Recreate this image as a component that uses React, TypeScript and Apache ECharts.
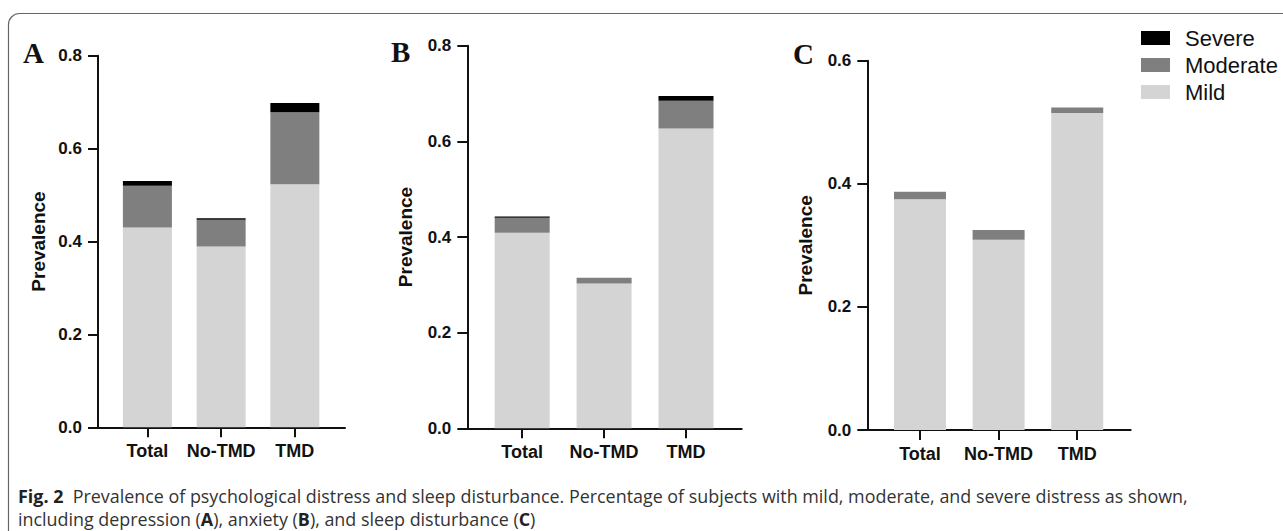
import React, { useEffect, useRef } from "react";
import * as echarts from "echarts";

const categories = ["Total", "No-TMD", "TMD"];
const levels = ["Severe", "Moderate", "Mild"];
const levelColors: Record<string, string> = { Severe: "#000000", Moderate: "#7f7f7f", Mild: "#d4d4d4" };

// Panel A: depression
const mildA = [0.43, 0.389, 0.523];
const moderateA = [0.09, 0.058, 0.155];
const severeA = [0.01, 0.003, 0.02];
// Panel B: anxiety
const mildB = [0.409, 0.303, 0.627];
const moderateB = [0.031, 0.012, 0.058];
const severeB = [0.003, 0, 0.01];
// Panel C: sleep disturbance
const mildC = [0.375, 0.309, 0.515];
const moderateC = [0.012, 0.016, 0.009];
const severeC = [0, 0, 0];

const yTicksAB = [0, 0.2, 0.4, 0.6, 0.8];
const yTicksC = [0, 0.2, 0.4, 0.6];

const panelLetters = ["A", "B", "C"];
const captionLine1 = "Prevalence of psychological distress and sleep disturbance. Percentage of subjects with mild, moderate, and severe distress as shown,";
const captionLine2 = "including depression ({b|A}), anxiety ({b|B}), and sleep disturbance ({b|C})";

const FONT = "Arial, 'Liberation Sans', Helvetica, sans-serif";
const X_MIN = -0.67;
const X_MAX = 2.68;

export default function App() {
  const ref = useRef<HTMLDivElement>(null);
  useEffect(() => {
    if (!ref.current) return;
    const chart = echarts.init(ref.current, undefined, { renderer: "svg" });

    const panels = [
      { grid: { left: 98, top: 55.7, width: 247, height: 371.6 }, ticks: yTicksAB, barWidth: 49, data: [mildA, moderateA, severeA], nameGap: 50 },
      { grid: { left: 467.3, top: 45.7, width: 274.4, height: 382.6 }, ticks: yTicksAB, barWidth: 55, data: [mildB, moderateB, severeB], nameGap: 52 },
      { grid: { left: 867.3, top: 60.7, width: 263.4, height: 369.3 }, ticks: yTicksC, barWidth: 52, data: [mildC, moderateC, severeC], nameGap: 52 },
    ];

    const axisLineStyle = { color: "#111", width: 2 };
    const grid: any[] = [];
    const xAxis: any[] = [];
    const yAxis: any[] = [];
    const series: any[] = [];

    panels.forEach((p, i) => {
      const step = p.grid.width / (X_MAX - X_MIN);
      // outer grid: visible axes
      grid.push({ ...p.grid });
      // inner grid: category bands for the stacked bars
      grid.push({
        left: p.grid.left + (0 - X_MIN - 0.5) * step,
        top: p.grid.top,
        width: 3 * step,
        height: p.grid.height,
      });
      const outer = 2 * i;
      const inner = 2 * i + 1;
      xAxis.push({
        type: "value",
        gridIndex: outer,
        min: X_MIN,
        max: X_MAX,
        splitLine: { show: false },
        axisLine: { show: true, onZero: false, lineStyle: axisLineStyle },
        axisTick: { show: true, customValues: [0, 1, 2], length: 10, lineStyle: axisLineStyle },
        axisLabel: {
          customValues: [0, 1, 2],
          formatter: (v: number) => categories[Math.round(v)],
          fontFamily: FONT,
          fontWeight: "bold",
          fontSize: 18,
          color: "#111",
          margin: 15,
        },
      });
      xAxis.push({
        type: "category",
        gridIndex: inner,
        data: categories,
        show: false,
      });
      const yMax = p.ticks[p.ticks.length - 1];
      yAxis.push({
        type: "value",
        gridIndex: outer,
        min: 0,
        max: yMax,
        interval: 0.2,
        name: "Prevalence",
        nameLocation: "middle",
        nameGap: p.nameGap,
        nameTextStyle: { fontFamily: FONT, fontWeight: "bold", fontSize: 19, color: "#111" },
        splitLine: { show: false },
        axisLine: { show: true, onZero: false, lineStyle: axisLineStyle },
        axisTick: { show: true, length: 10, lineStyle: axisLineStyle },
        axisLabel: {
          formatter: (v: number) => v.toFixed(1),
          fontFamily: FONT,
          fontWeight: "bold",
          fontSize: 17,
          color: "#111",
          margin: 16,
        },
      });
      yAxis.push({ type: "value", gridIndex: inner, min: 0, max: yMax, show: false, splitLine: { show: false } });

      const [mild, moderate, severe] = p.data;
      const parts: [string, number[]][] = [["Mild", mild], ["Moderate", moderate], ["Severe", severe]];
      parts.forEach(([name, vals]) => {
        series.push({
          type: "bar",
          name,
          xAxisIndex: inner,
          yAxisIndex: inner,
          stack: "s" + i,
          barWidth: p.barWidth,
          itemStyle: { color: levelColors[name] },
          data: vals,
        });
      });
    });

    const letterPos = [
      { x: 23, y: 53 },
      { x: 391, y: 52 },
      { x: 793, y: 54 },
    ];

    const captionFont = "17.9px 'Open Sans', sans-serif";
    const rich = { b: { fontFamily: "'Open Sans', sans-serif", fontWeight: "bold", fontSize: 17.9, fill: "#222" } };

    chart.setOption({
      animation: false,
      backgroundColor: "#ffffff",
      grid,
      xAxis,
      yAxis,
      series,
      legend: {
        data: levels,
        orient: "vertical",
        left: 1141,
        top: 27,
        padding: 0,
        itemWidth: 29,
        itemHeight: 14,
        itemGap: 5,
        icon: "rect",
        textStyle: { fontFamily: FONT, fontSize: 22, color: "#111", padding: [0, 0, 0, 10] },
      },
      graphic: [
        {
          type: "rect",
          silent: true,
          shape: { x: 8.5, y: 13.5, width: 1400, height: 700, r: 11 },
          style: { fill: "none", stroke: "#666", lineWidth: 1.2 },
        },
        ...panelLetters.map((t, i) => ({
          type: "text",
          x: letterPos[i].x,
          y: letterPos[i].y,
          style: {
            text: t,
            font: "bold 29px 'Liberation Serif', 'Times New Roman', serif",
            fill: "#111",
            textVerticalAlign: "middle",
          },
        })),
        {
          type: "text",
          x: 18,
          y: 496,
          style: { text: "{b|Fig. 2}  " + captionLine1, font: captionFont, fill: "#333", textVerticalAlign: "middle", rich },
        },
        {
          type: "text",
          x: 18,
          y: 519,
          style: { text: captionLine2, font: captionFont, fill: "#333", textVerticalAlign: "middle", rich },
        },
      ],
    });
    return () => chart.dispose();
  }, []);
  return <div ref={ref} style={{ position: "fixed", left: 0, top: 0, width: 1283, height: 531, background: "#fff" }} />;
}
